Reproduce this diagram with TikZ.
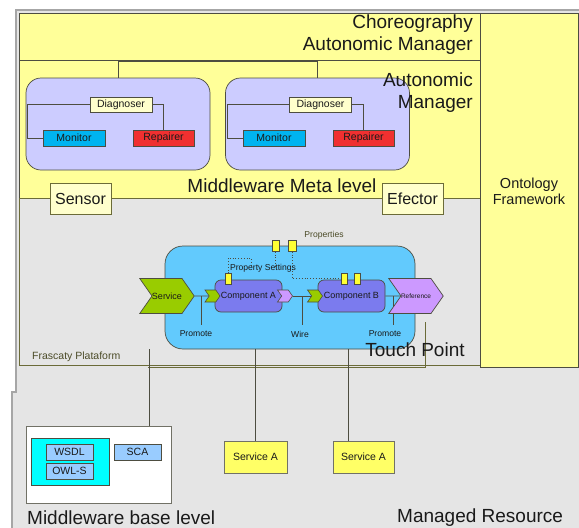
\documentclass[tikz,border=0pt]{standalone}
\usepackage{fontspec}
\setmainfont{Liberation Sans}
\usetikzlibrary{positioning,calc,backgrounds,shapes.symbols}
\pgfdeclarelayer{wires}
\pgfsetlayers{background,wires,main}
\definecolor{cyel}{HTML}{FFFF99}
\definecolor{cpale}{HTML}{FFFFCC}
\definecolor{cgray}{HTML}{E5E5E5}
\definecolor{clav}{HTML}{CCCCFF}
\definecolor{cmon}{HTML}{00B4F0}
\definecolor{crep}{HTML}{F03030}
\definecolor{ccomp}{HTML}{62CAFD}
\definecolor{cpart}{HTML}{7B7BEE}
\definecolor{cgreen}{HTML}{99CC00}
\definecolor{cpurp}{HTML}{CC99FF}
\definecolor{ccyan}{HTML}{00FFFF}
\definecolor{cwsdl}{HTML}{99CCFF}
\definecolor{csvc}{HTML}{FFFF66}
\definecolor{cprop}{HTML}{FFFF33}
\definecolor{cline}{HTML}{4D4D40}
\definecolor{colive}{HTML}{6B6B38}
\definecolor{ctext}{HTML}{1A1A1A}
\tikzset{
  region/.style={draw=cline,line width=0.8pt},
  bigtxt/.style={font=\fontsize{19}{22}\selectfont,text=ctext,inner sep=0pt},
  midtxt/.style={font=\fontsize{14.5}{16}\selectfont,text=ctext,inner sep=0pt},
  smalltxt/.style={font=\fontsize{10.5}{12}\selectfont,text=ctext,inner sep=0pt},
  tinytxt/.style={font=\fontsize{8.6}{10}\selectfont,text=ctext,inner sep=0pt},
  part/.style={draw=cline,line width=0.7pt,minimum height=15pt,inner sep=0pt,font=\fontsize{10.5}{12}\selectfont,text=ctext},
  diag/.style={part,fill=cpale,minimum width=62pt},
  mon/.style={part,fill=cmon,minimum width=62pt,minimum height=16pt},
  rep/.style={part,fill=crep,minimum width=61pt,minimum height=16pt},
  mgr/.style={draw=cline,fill=clav,rounded corners=15pt,minimum width=184pt,minimum height=92pt,line width=0.7pt},
  probe/.style={draw=colive,fill=cpale,line width=0.7pt,minimum width=61pt,minimum height=31pt,inner sep=0pt,font=\fontsize{16}{19}\selectfont,text=ctext},
  compbox/.style={draw=cline,fill=ccomp,rounded corners=18pt,minimum width=250pt,minimum height=103pt,line width=0.7pt},
  scacomp/.style={draw=cline,fill=cpart,rounded corners=6pt,minimum width=67pt,minimum height=32pt,inner sep=0pt,line width=0.7pt,font=\fontsize{9}{11}\selectfont,text=ctext},
  svcarrow/.style={signal,signal to=east,signal from=west,signal pointer angle=110,draw=cline,line width=0.7pt,inner sep=0pt,minimum width=50pt,minimum height=35pt,font=\fontsize{9}{11}\selectfont,text=ctext},
  pinarrow/.style={signal,signal to=east,signal from=west,signal pointer angle=110,draw=cline,line width=0.6pt,inner sep=0pt,minimum width=15pt,minimum height=12pt},
  prop/.style={draw=cline,fill=cprop,line width=0.6pt,minimum width=6pt,minimum height=11pt,inner sep=0pt},
  wire/.style={draw=cline,line width=0.8pt},
  dotline/.style={draw=cline,dotted,line width=0.8pt},
  basebox/.style={draw=cline!80,fill=white,line width=0.7pt,minimum width=145pt,minimum height=77pt},
  wsbox/.style={draw=cline,fill=ccyan,line width=0.7pt,minimum width=78pt,minimum height=47pt},
  desc/.style={draw=cline,fill=cwsdl,line width=0.7pt,minimum width=47pt,minimum height=16pt,inner sep=0pt,font=\fontsize{10.5}{12}\selectfont,text=ctext},
  svcbox/.style={draw=cline!80,fill=csvc,line width=0.7pt,minimum width=62pt,minimum height=32pt,inner sep=0pt,font=\fontsize{10.5}{12}\selectfont,text=ctext},
}

\begin{document}
\begin{tikzpicture}[x=1pt,y=-1pt]
\useasboundingbox (0,0) rectangle (579,528);
\begin{scope}[on background layer]
\fill[white] (0,0) rectangle (579,528);
\filldraw[fill=cgray,draw=gray!70,line width=1.2pt] (16,10) -- (580,10) -- (580,530) -- (12,530) -- (12,392) -- (16,392) -- cycle;
\draw[region,fill=cyel] (19,13) rectangle (480,60);
\draw[region,fill=cyel] (19,60) rectangle (480,198);
\draw[region,draw=colive,fill=cgray] (19,198) rectangle (480,365);
\draw[region,fill=cyel] (480,13) rectangle (578,367);
\draw[region,draw=colive] (148,367) -- (425,367) -- (425,322);
\node[mgr] (mgr1) at (118,124) {};
\node[mgr] (mgr2) at (317.5,124) {};
\node[compbox] (comp) at (290,297.5) {};
\end{scope}

\node[bigtxt,anchor=east,align=right] (chor) at (473,35) {Choreography\\Autonomic Manager};
\node[bigtxt,anchor=east,align=right] (am) at (473,93) {Autonomic\\Manager};
\node[bigtxt] (meta) at (282,186) {Middleware Meta level};
\node[midtxt,align=center] (onto) at (529,191) {Ontology\\Framework};
\node[probe] (sensor) at (80.5,198.5) {Sensor};
\node[probe] (efector) at (412.5,198.5) {Efector};
\node[smalltxt,text=colive!70!black,anchor=west] (frascaty) at (32,357) {Frascaty Plataform};

\node[diag] (d1) at (121,104.5) {Diagnoser};
\node[mon] (m1) at (74,138) {Monitor};
\node[rep] (r1) at (163.5,138) {Repairer};
\node[diag] (d2) at (320.5,104.5) {Diagnoser};
\node[mon] (m2) at (274,138) {Monitor};
\node[rep] (r2) at (363.5,138) {Repairer};

\node[scacomp] (compa) at (248.5,296) {Component A};
\node[scacomp] (compb) at (351.5,296) {Component B};
\node[svcarrow,fill=cgreen] (svc) at (167,296) {Service};
\node[svcarrow,fill=cpurp,font=\fontsize{6.5}{7}\selectfont] (ref) at (416,296) {Reference};
\node[pinarrow,fill=cgreen] (pa) at (212.5,296) {};
\node[pinarrow,fill=cpurp] (ra) at (285,296) {};
\node[pinarrow,fill=cgreen] (pb) at (315,296) {};
\node[prop] (pa1) at (228,279) {};
\node[prop] (pb1) at (344,278.5) {};
\node[prop] (pb2) at (357,278.5) {};
\node[prop,minimum width=7pt] (pp1) at (275.5,246) {};
\node[prop,minimum width=8pt] (pp2) at (292,246) {};
\node[tinytxt,text=colive!70!black] (props) at (324,235) {Properties};
\node[tinytxt] (psets) at (263,268) {Property Settings};
\node[tinytxt] (prom1) at (196,334) {Promote};
\node[tinytxt] (wirelbl) at (300,334) {Wire};
\node[tinytxt] (prom2) at (385,334) {Promote};
\node[bigtxt] (touch) at (415,350) {Touch Point};

\node[basebox] (base) at (98.5,464.5) {};
\node[wsbox] (wsgrp) at (70,461.5) {};
\node[desc] (wsdl) at (69.5,452) {WSDL};
\node[desc] (owls) at (69.5,471) {OWL-S};
\node[desc] (sca) at (137.5,452) {SCA};
\node[svcbox,minimum width=63pt] (sa1) at (255.5,457) {Service A};
\node[svcbox,minimum width=61pt] (sa2) at (363.5,457) {Service A};
\node[bigtxt,anchor=west] (baselvl) at (27,518) {Middleware base level};
\node[bigtxt,anchor=west] (managed) at (397,518) {Managed Resource};

\begin{pgfonlayer}{wires}
\draw[wire] (mgr1.north) -- ++(0,-16) -| (mgr2.north);
\draw[wire] (d1.west) -- ++(-62,0) |- (m1.west);
\draw[wire] (d1.east) -| (r1.north);
\draw[wire] (d2.west) -- ++(-62,0) |- (m2.west);
\draw[wire] (d2.east) -| (r2.north);
\draw[wire] (svc) -- (pa);
\draw[wire] (ra) -- (pb);
\draw[wire] (compb) -- (ref);
\draw[wire] ($(svc.east)!.5!(pa.west)$) -- ++(0,29);
\draw[wire] ($(ra.east)!.5!(pb.west)$) -- ++(0,29);
\draw[wire] ($(compb.east)!.5!(ref.west)$) -- ++(0,29);
\draw[dotline] (pa1.north) |- ++(23,-15) -- ++(0,9);
\draw[dotline] (pp1.south) -- ++(0,15);
\draw[dotline] (pp2.south) |- (pb1.west);
\coordinate (tp1) at (149,349);
\coordinate (tp3) at (348,349);
\draw[wire] (tp1) -- (tp1 |- base.north);
\draw[wire] (comp.south -| sa1.north) -- (sa1.north);
\draw[wire] (tp3) -- (tp3 |- sa2.north);
\end{pgfonlayer}
\end{tikzpicture}
\end{document}
